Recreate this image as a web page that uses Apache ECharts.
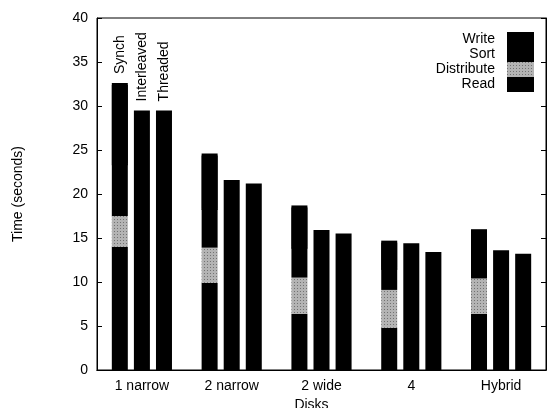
<!DOCTYPE html>
<html>
<head>
<meta charset="utf-8">
<script src="https://cdn.jsdelivr.net/npm/echarts@6/dist/echarts.min.js"></script>
<style>
  html, body { margin: 0; padding: 0; background: #fff; }
  #chart { width: 547px; height: 408px; }
</style>
</head>
<body>
<div id="chart"></div>
<script>
const categories = ['1 narrow', '2 narrow', '2 wide', '4', 'Hybrid']

// Synch bar, stacked phases (bottom to top)
const readTimes = [14.0, 9.9, 6.4, 4.8, 6.4]
const distributeTimes = [3.5, 4.0, 4.1, 4.3, 4.0]
// Sort and Write are both drawn solid black, their split is not visible
const sortTimes = [6.0, 4.5, 3.5, 2.5, 2.5]
const writeTimes = [9.1, 6.2, 4.7, 3.1, 3.1]

// Interleaved and Threaded totals
const interleavedTimes = [29.5, 21.6, 15.9, 14.4, 13.6]
const threadedTimes = [29.5, 21.2, 15.5, 13.4, 13.2]

const font = 'Liberation Sans, Arial, Helvetica, sans-serif'
const chart = echarts.init(document.getElementById('chart'), null, { renderer: 'canvas' })

const barBase = {
  type: 'bar',
  barWidth: 16,
  barGap: '38%',
  itemStyle: { color: '#000' }
}

// label only on the first group
function topLabel (text, values) {
  return values.map((v, i) => i === 0 ? {
    value: v,
    label: {
      show: true,
      position: 'top',
      rotate: 90,
      align: 'left',
      verticalAlign: 'middle',
      distance: 9,
      formatter: text,
      color: '#000',
      fontFamily: font,
      fontSize: 14
    }
  } : v)
}

const option = {
  animation: false,
  textStyle: { fontFamily: font, color: '#000' },
  grid: {
    left: 97,
    right: 1,
    top: 18,
    bottom: 38,
    outerBoundsMode: 'none',
    show: true,
    borderColor: '#000',
    borderWidth: 1
  },
  legend: {
    orient: 'vertical',
    right: 8,
    top: 27,
    itemWidth: 27,
    itemHeight: 15,
    itemGap: 0,
    align: 'right',
    icon: 'rect',
    data: ['Write', 'Sort', 'Distribute', 'Read'],
    textStyle: { fontFamily: font, fontSize: 14, lineHeight: 15, color: '#000', padding: [0, 7, 0, 0] }
  },
  xAxis: [
    {
      type: 'category',
      data: categories,
      name: 'Disks',
      nameLocation: 'middle',
      nameGap: 24,
      nameTextStyle: { fontSize: 14, color: '#000', padding: [0, 20, 0, 0] },
      axisLine: { lineStyle: { color: '#000' } },
      axisTick: { inside: true, alignWithLabel: true, length: 4, lineStyle: { color: '#000' } },
      axisLabel: { fontSize: 14, color: '#000', margin: 9 }
    },
    {
      type: 'category',
      data: categories,
      position: 'top',
      axisLine: { lineStyle: { color: '#000' } },
      axisTick: { inside: true, alignWithLabel: true, length: 4, lineStyle: { color: '#000' } },
      axisLabel: { show: false }
    }
  ],
  yAxis: [
    {
      type: 'value',
      min: 0,
      max: 40,
      interval: 5,
      name: 'Time (seconds)',
      nameLocation: 'middle',
      nameGap: 72,
      nameTextStyle: { fontSize: 14, color: '#000' },
      axisLine: { show: true, lineStyle: { color: '#000' } },
      axisTick: { show: true, inside: true, length: 5, lineStyle: { color: '#000' } },
      axisLabel: { fontSize: 14, color: '#000', margin: 9 },
      splitLine: { show: false }
    },
    {
      type: 'value',
      min: 0,
      max: 40,
      interval: 5,
      position: 'right',
      axisLine: { show: true, lineStyle: { color: '#000' } },
      axisTick: { show: true, inside: true, length: 5, lineStyle: { color: '#000' } },
      axisLabel: { show: false },
      splitLine: { show: false }
    }
  ],
  series: [
    { ...barBase, name: 'Read', stack: 'synch', data: readTimes },
    {
      ...barBase,
      name: 'Distribute',
      stack: 'synch',
      data: distributeTimes,
      itemStyle: {
        color: '#b4b4b4',
        decal: {
          symbol: 'rect',
          symbolSize: 1,
          color: 'rgba(60,60,60,0.55)',
          dashArrayX: [1, 2],
          dashArrayY: [1, 2],
          rotation: 0
        }
      }
    },
    { ...barBase, name: 'Sort', stack: 'synch', data: sortTimes },
    {
      ...barBase,
      name: 'Write',
      stack: 'synch',
      data: topLabel('Synch', writeTimes),
      // small black shadow hides the anti-aliased seam against Sort
      itemStyle: { color: '#000', shadowColor: '#000', shadowBlur: 0, shadowOffsetY: 2 }
    },
    { ...barBase, name: 'Interleaved', stack: 'interleaved', data: topLabel('Interleaved', interleavedTimes) },
    { ...barBase, name: 'Threaded', stack: 'threaded', data: topLabel('Threaded', threadedTimes) }
  ]
}

chart.setOption(option)
</script>
</body>
</html>
